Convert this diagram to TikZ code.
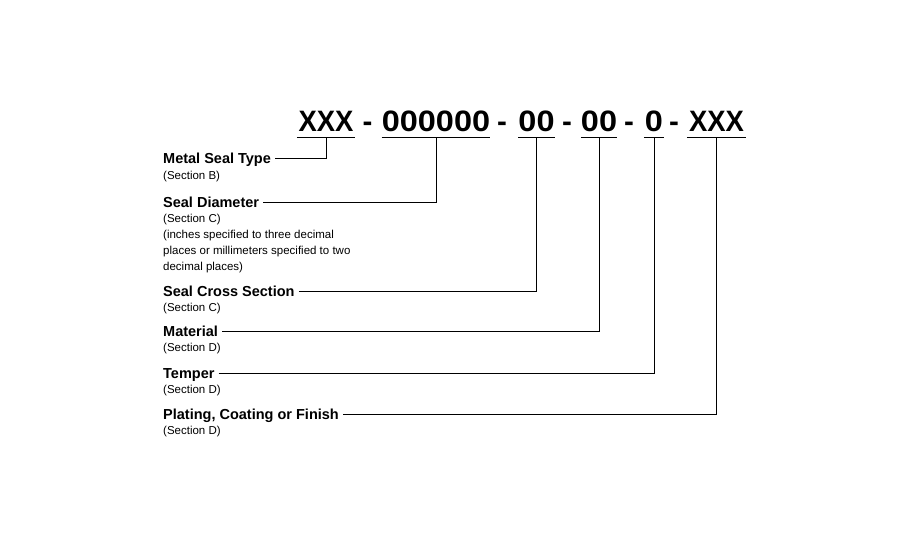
\documentclass[tikz,border=0pt]{standalone}
\usepackage{fontspec}
\setmainfont{Liberation Sans}
\newfontfamily\digitface{Liberation Sans}[FakeStretch=1.1]
\newfontfamily\letterface{Liberation Sans}[FakeStretch=0.93]
\usetikzlibrary{positioning,calc}

\tikzset{
  code/.style={font=\fontsize{29.5}{34}\selectfont\bfseries, anchor=base, inner xsep=0pt, inner ysep=6pt, text depth=0pt},
  digits/.style={code, font=\digitface\fontsize{29.5}{34}\selectfont\bfseries},
  letters/.style={code, font=\letterface\fontsize{29.5}{34}\selectfont\bfseries},
  field/.style={font=\fontsize{14.5}{17}\selectfont\bfseries, anchor=west, inner xsep=4pt, inner ysep=0pt, text height=10.5pt, text depth=0pt},
  note/.style={font=\fontsize{11.5}{13}\selectfont, anchor=west, inner xsep=4pt, inner ysep=0pt, text height=8pt, text depth=0pt},
  uline/.style={line width=1.3pt},
  link/.style={line width=1pt}
}

\begin{document}
\begin{tikzpicture}[x=1pt,y=-1pt]
        \fill[white] (0,0) rectangle (900,550);
        \useasboundingbox (0,0) rectangle (900,550);

        % part number
        \node[letters, minimum width=58pt] (g1) at (326,131.5) {XXX};
        \node[code] (h1) at (367.5,131.5) {-};
        \node[digits, minimum width=108pt] (g2) at (436,131.5) {000000};
        \node[code] (h2) at (502,131.5) {-};
        \node[digits, minimum width=33pt] (g3) at (536.5,131.5) {00};
        \node[code] (h3) at (567,131.5) {-};
        \node[digits, minimum width=34pt] (g4) at (599,131.5) {00};
        \node[code] (h4) at (629,131.5) {-};
        \node[digits, minimum width=20pt] (g5) at (654,131.5) {0};
        \node[code] (h5) at (674,131.5) {-};
        \node[letters, minimum width=59pt] (g6) at (716.5,131.5) {XXX};
        \foreach \g in {g1,g2,g3,g4,g5,g6} \draw[uline] (\g.south west) -- (\g.south east);

        % fields
        \node[field] (ms) at (159,158.5) {Metal Seal Type};
        \node[note] (msn) at ([yshift=-17pt]ms.west) {(Section B)};
        \node[field] (sd) at (159,202) {Seal Diameter};
        \node[note] (sdn) at ([yshift=-16pt]sd.west) {(Section C)};
        \node[note] (sd1) at ([yshift=-16.3pt]sdn.west) {(inches specified to three decimal};
        \node[note] (sd2) at ([yshift=-16.3pt]sd1.west) {places or millimeters specified to two};
        \node[note] (sd3) at ([yshift=-16.3pt]sd2.west) {decimal places)};
        \node[field] (sc) at (159,291.5) {Seal Cross Section};
        \node[note] (scn) at ([yshift=-16pt]sc.west) {(Section C)};
        \node[field] (mt) at (159,331.5) {Material};
        \node[note] (mtn) at ([yshift=-16pt]mt.west) {(Section D)};
        \node[field] (tp) at (159,373.5) {Temper};
        \node[note] (tpn) at ([yshift=-16pt]tp.west) {(Section D)};
        \node[field] (pl) at (159,414.5) {Plating, Coating or Finish};
        \node[note] (pln) at ([yshift=-16pt]pl.west) {(Section D)};

        \draw[link] (ms.east) -| (g1.south);
        \draw[link] (sd.east) -| (g2.south);
        \draw[link] (sc.east) -| (g3.south);
        \draw[link] (mt.east) -| (g4.south);
        \draw[link] (tp.east) -| (g5.south);
        \draw[link] (pl.east) -| (g6.south);
    \end{tikzpicture}
\end{document}
